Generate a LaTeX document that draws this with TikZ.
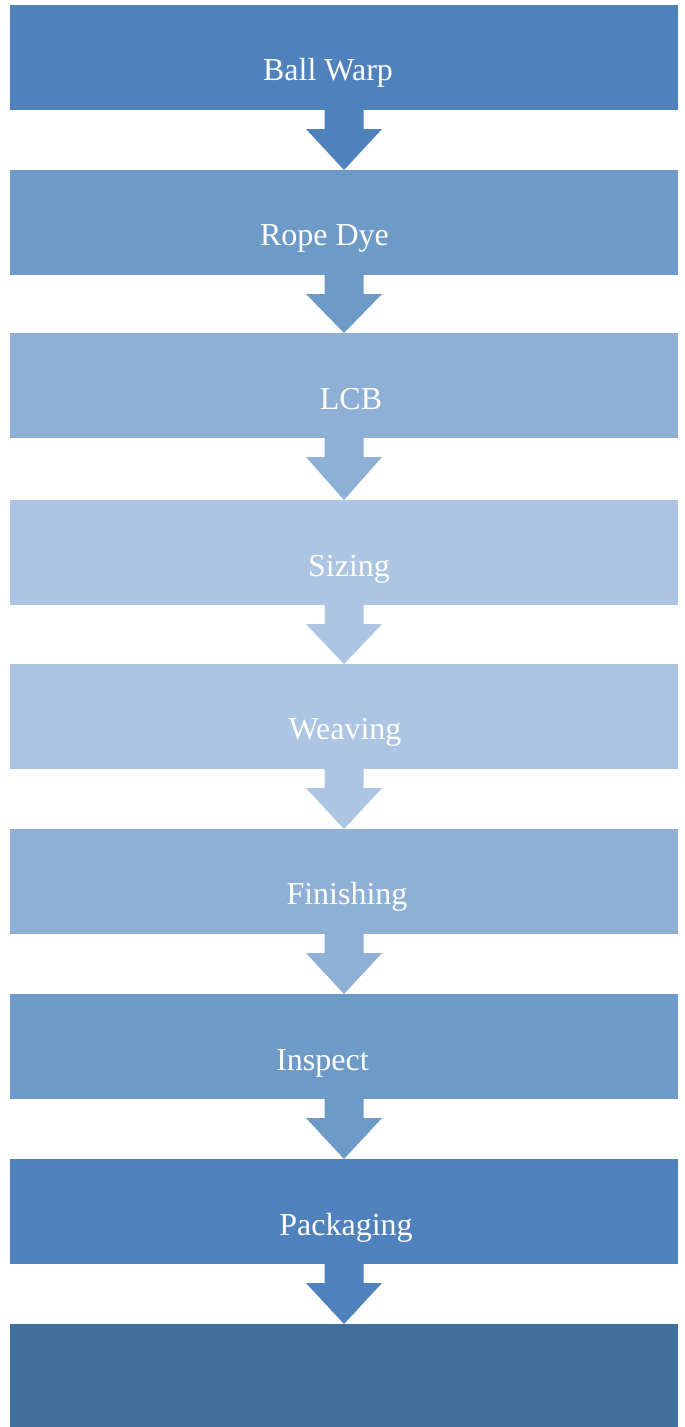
\documentclass[tikz,border=0pt]{standalone}
\usepackage{fontspec}
\setmainfont{Liberation Serif}
\usetikzlibrary{calc}
\definecolor{shadeA}{HTML}{4F81BD}
\definecolor{shadeB}{HTML}{6E9AC8}
\definecolor{shadeC}{HTML}{8EAFD6}
\definecolor{shadeD}{HTML}{ABC5E3}
\definecolor{shadeE}{HTML}{416F9C}
\begin{document}
\begin{tikzpicture}[x=1pt,y=-1pt,
  stage/.style={draw=none,fill=#1,rectangle,anchor=north west,inner sep=0pt,outer sep=0pt,
    minimum width=668pt,minimum height=105pt},
  caption/.style={text=white,anchor=base,inner sep=0pt,font=\fontsize{32}{38}\selectfont}]
\useasboundingbox (0,0) rectangle (685,1427);
\fill[white] (0,0) rectangle (685,1427);
% process stages
\node[stage=shadeA] (b1) at (10,5) {};
\node[stage=shadeB] (b2) at (10,170) {};
\node[stage=shadeC] (b3) at (10,333) {};
\node[stage=shadeD] (b4) at (10,500) {};
\node[stage=shadeD] (b5) at (10,664) {};
\node[stage=shadeC] (b6) at (10,829) {};
\node[stage=shadeB] (b7) at (10,994) {};
\node[stage=shadeA] (b8) at (10,1159) {};
\node[stage=shadeE,minimum height=103pt] (b9) at (10,1324) {};
% block arrows between stages
\foreach \a/\b/\c in {b1/b2/shadeA,b2/b3/shadeB,b3/b4/shadeC,b4/b5/shadeD,
                      b5/b6/shadeD,b6/b7/shadeC,b7/b8/shadeB,b8/b9/shadeA}{
  \fill[\c] ($(\a.south)+(-19.5,0)$) -- ($(\a.south)+(19.5,0)$)
    -- ($(\a.south)+(19.5,19)$) -- ($(\a.south)+(38,19)$)
    -- (\b.north)
    -- ($(\a.south)+(-38,19)$) -- ($(\a.south)+(-19.5,19)$) -- cycle;
}
% stage labels
\node[caption] (l1) at (328,80) {Ball Warp};
\node[caption] (l2) at (324.5,245) {Rope Dye};
\node[caption] (l3) at (351,409) {LCB};
\node[caption] (l4) at (349,576) {Sizing};
\node[caption] (l5) at (345,739) {Weaving};
\node[caption] (l6) at (347,904) {Finishing};
\node[caption] (l7) at (322.5,1070) {Inspect};
\node[caption] (l8) at (346,1235) {Packaging};
\end{tikzpicture}
\end{document}
